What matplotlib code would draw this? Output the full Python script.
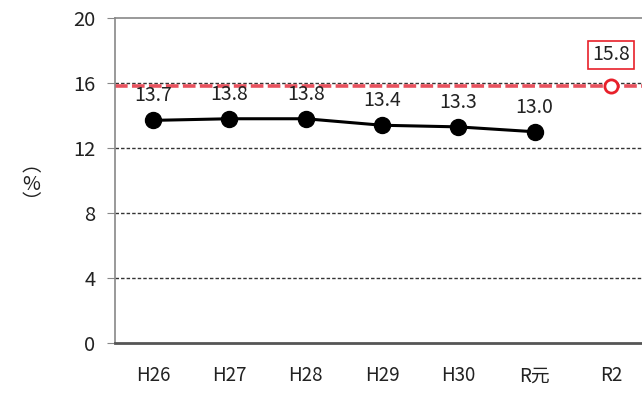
import matplotlib
matplotlib.use("Agg")
import matplotlib.pyplot as plt

plt.rcParams['font.family'] = ['Noto Sans CJK JP', 'DejaVu Sans']

# data
years = ['H26', 'H27', 'H28', 'H29', 'H30', 'R元', 'R2']
rate = [13.7, 13.8, 13.8, 13.4, 13.3, 13.0]
r2_rate = 15.8
yticks = [0, 4, 8, 12, 16, 20]

fig = plt.figure(figsize=(6.42, 3.93), dpi=100)
ax = fig.add_axes([115/642, 50/393, 534/642, 325/393])

x = list(range(len(years)))

# grid
for t in [4, 8, 12, 16]:
    ax.axhline(t, color='#333333', lw=1.0, ls=(0, (2.5, 1.5)), zorder=1)
ax.axhline(r2_rate, color='#e8525e', lw=2.6, ls=(0, (3.5, 1.2)), zorder=2)

ax.plot(x[:len(rate)], rate, color='black', lw=2.2, marker='o', ms=11.5, zorder=3)
ax.plot(x[-1], r2_rate, marker='o', ms=9.5, mfc='white', mec='#e8202a', mew=2.0,
        ls='none', zorder=4)

for xi, v in zip(x, rate):
    ax.annotate(f'{v:.1f}', (xi, v), xytext=(0, 10), textcoords='offset points',
                ha='center', va='bottom', fontsize=14, color='#222222')
ax.annotate(f'{r2_rate:.1f}', (x[-1], r2_rate), xytext=(0, 15), textcoords='offset points',
            ha='center', va='bottom', fontsize=14, color='#222222',
            bbox=dict(boxstyle='square,pad=0.2', fc='white', ec='#e8202a', lw=1.2))

ax.set_xlim(-0.5, len(years) - 0.5)
ax.set_ylim(0, 20)
ax.set_xticks(x)
ax.set_xticklabels(years, fontsize=13.5)
ax.set_yticks(yticks)
ax.set_yticklabels([str(t) for t in yticks], fontsize=14.5)
ax.tick_params(axis='x', length=0, pad=16, colors='#222222')
ax.tick_params(axis='y', length=6, pad=8, colors='#222222', direction='out')
ax.tick_params(axis='y', color='#888888')

for s in ['left', 'top']:
    ax.spines[s].set_color('#888888')
    ax.spines[s].set_linewidth(1.2)
ax.spines['bottom'].set_color('#555555')
ax.spines['bottom'].set_linewidth(2.0)
ax.spines['right'].set_visible(False)

fig.text(31/642, 1 - 184/393, '︵\n%\n︶', ha='center', va='center',
         fontsize=14, linespacing=0.85, color='#222222')

fig.savefig('out.png', dpi=100)
